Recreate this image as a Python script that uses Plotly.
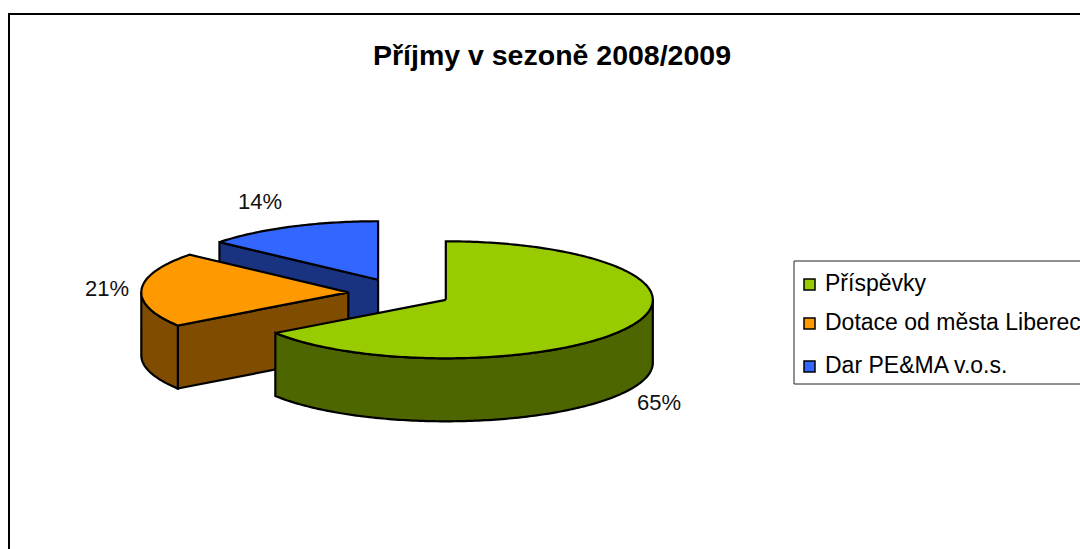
import numpy as np
import plotly.graph_objects as go

TITLE = "Příjmy v sezoně 2008/2009"
categories = ["Příspěvky", "Dotace od města Liberec", "Dar PE&MA v.o.s."]
values = [65.4, 20.7, 13.9]
top_colors = ["#99CC00", "#FF9900", "#3366FF"]
side_colors = ["#4D6600", "#804C00", "#1A3380"]

# Projection of the tilted, exploded pie onto the pixel-sized axes
CX, CY, RX, RY, DEPTH, EXPLODE = 400, 293, 207, 58.5, 63, 0.25
FONT = "Liberation Sans, Arial, sans-serif"

total = sum(values)
ends = np.cumsum(values) / total * 2 * np.pi
starts = np.concatenate([[0], ends[:-1]])


def rim(a, ox, oy, dz=0.0):
    return ox + RX * np.sin(a), oy - RY * np.cos(a) + dz


def arc(a0, a1):
    return np.linspace(a0, a1, max(int(abs(a1 - a0) * 60), 2))


def poly(xs, ys, fill):
    return go.Scatter(
        x=np.round(xs, 2), y=np.round(ys, 2), mode="lines", fill="toself",
        fillcolor=fill, line=dict(color="black", width=2.2, simplify=False),
        hoverinfo="skip", showlegend=False,
    )


def top_face(i, ox, oy):
    px, py = rim(arc(starts[i], ends[i]), ox, oy)
    return poly(np.r_[ox, px, ox], np.r_[oy, py, oy], top_colors[i])


def cut_face(i, ox, oy, a):
    x1, y1 = rim(a, ox, oy)
    return poly([ox, x1, x1, ox, ox], [oy, y1, y1 + DEPTH, oy + DEPTH, oy], side_colors[i])


def wall(i, ox, oy, a0, a1):
    a = arc(a0, a1)
    px, py = rim(a, ox, oy)
    return poly(np.r_[px, px[::-1], px[0]], np.r_[py, py[::-1] + DEPTH, py[0]], side_colors[i])


offsets = []
for i in range(len(values)):
    mid = (starts[i] + ends[i]) / 2
    offsets.append((CX + EXPLODE * RX * np.sin(mid), CY - EXPLODE * RY * np.cos(mid)))

fig = go.Figure()
# back to front: blue, orange, green
fig.add_trace(cut_face(2, *offsets[2], starts[2]))
fig.add_trace(top_face(2, *offsets[2]))
fig.add_trace(cut_face(1, *offsets[1], starts[1]))
fig.add_trace(wall(1, *offsets[1], starts[1], 1.5 * np.pi))
fig.add_trace(top_face(1, *offsets[1]))
fig.add_trace(wall(0, *offsets[0], 0.5 * np.pi, ends[0]))
fig.add_trace(top_face(0, *offsets[0]))

label_pos = [(659, 402), (107, 288), (260, 201)]
annotations = [
    dict(x=x, y=y, text=f"{round(v / total * 100)}%", showarrow=False, xref="x", yref="y",
         font=dict(family=FONT, size=22, color="#111111"))
    for v, (x, y) in zip(values, label_pos)
]

shapes = [
    dict(type="rect", xref="x", yref="y", x0=9, y0=14, x1=1200, y1=700,
         line=dict(color="black", width=2), layer="below"),
    dict(type="rect", xref="x", yref="y", x0=794, y0=261, x1=1200, y1=384,
         line=dict(color="#222222", width=1), layer="below"),
]
legend_y = [283, 322, 365]
for name, col, y in zip(categories, top_colors, legend_y):
    shapes.append(dict(type="rect", xref="x", yref="y", x0=804, x1=815, y0=y - 4, y1=y + 7,
                       fillcolor=col, line=dict(color="black", width=1.5)))
    annotations.append(dict(x=823, y=y, text=name, showarrow=False, xref="x", yref="y",
                            xanchor="left", yanchor="middle",
                            font=dict(family=FONT, size=23, color="black")))

fig.update_layout(
    width=1080, height=549, margin=dict(l=0, r=0, t=0, b=0),
    paper_bgcolor="white", plot_bgcolor="white", showlegend=False,
    title=dict(text=f"<b>{TITLE}</b>", x=552 / 1080, y=1 - 55 / 549, xanchor="center",
               yanchor="middle", font=dict(family=FONT, size=28.5, color="black")),
    xaxis=dict(range=[0, 1080], visible=False, fixedrange=True),
    yaxis=dict(range=[549, 0], visible=False, fixedrange=True),
    annotations=annotations, shapes=shapes,
)
fig.write_html(
    "out.html", config={"displayModeBar": False},
    post_script="document.documentElement.style.overflow='hidden';document.body.style.margin='0';",
)
